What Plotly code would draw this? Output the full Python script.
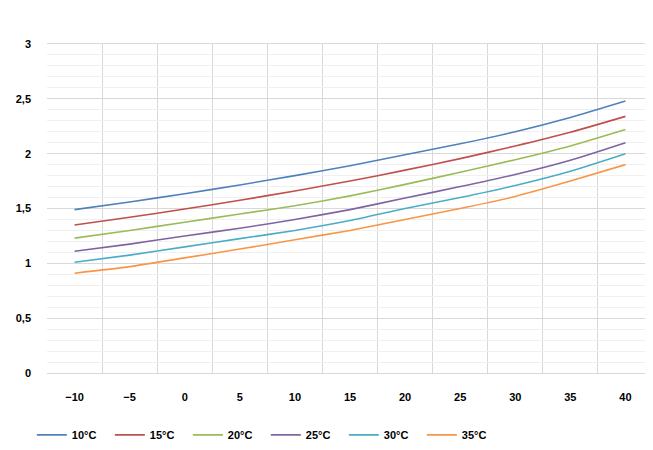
import plotly.graph_objects as go

temps_x = [-10, -5, 0, 5, 10, 15, 20, 25, 30, 35, 40]
series_names = ["10°C", "15°C", "20°C", "25°C", "30°C", "35°C"]
s10 = [1.49, 1.56, 1.635, 1.715, 1.80, 1.89, 1.99, 2.09, 2.20, 2.33, 2.48]
s15 = [1.35, 1.42, 1.495, 1.575, 1.66, 1.75, 1.85, 1.955, 2.07, 2.195, 2.34]
s20 = [1.23, 1.30, 1.375, 1.45, 1.525, 1.615, 1.72, 1.83, 1.945, 2.07, 2.22]
s25 = [1.11, 1.175, 1.25, 1.32, 1.40, 1.49, 1.595, 1.70, 1.81, 1.94, 2.10]
s30 = [1.01, 1.075, 1.15, 1.225, 1.30, 1.39, 1.50, 1.60, 1.71, 1.84, 2.00]
s35 = [0.91, 0.97, 1.05, 1.13, 1.215, 1.30, 1.40, 1.50, 1.61, 1.75, 1.90]
x_ticks = [-10, -5, 0, 5, 10, 15, 20, 25, 30, 35, 40]

colors = ["#4F81BD", "#C0504D", "#9BBB59", "#8064A2", "#4BACC6", "#F79646"]
all_series = [s10, s15, s20, s25, s30, s35]

font_fam = "Liberation Sans"
fig = go.Figure()
for name, ys, c in zip(series_names, all_series, colors):
    fig.add_trace(go.Scatter(x=temps_x, y=ys, mode="lines", name=name,
                             line=dict(color=c, width=1.6, shape="spline", smoothing=0.6)))

fig.update_layout(
    width=653, height=450,
    margin=dict(l=39, r=8, t=36, b=85, autoexpand=False),
    paper_bgcolor="white", plot_bgcolor="white",
    separators=", ",
    font=dict(family=font_fam, size=11, color="#000000"),
    showlegend=True,
    legend=dict(orientation="h", x=-0.025, xanchor="left", y=-0.188, yanchor="middle",
                entrywidth=33, entrywidthmode="pixels",
                font=dict(family=font_fam, size=11, color="#000", weight="bold"),
                itemclick=False, tracegroupgap=0),
    xaxis=dict(range=[-12.5, 42.5], tickmode="array", tickvals=x_ticks,
               ticks="", showgrid=False, zeroline=False,
               tickfont=dict(family=font_fam, size=11, weight="bold"),
               ticklabelstandoff=14,
               showline=True, linecolor="#d9d9d9", linewidth=1, mirror=True,
               minor=dict(tickmode="linear", tick0=-12.5, dtick=5, showgrid=True,
                          gridcolor="#d9d9d9", gridwidth=1, ticks="")),
    yaxis=dict(range=[0, 3], tickmode="linear", tick0=0, dtick=0.5,
               ticks="", showgrid=True, gridcolor="#d9d9d9", gridwidth=1,
               zeroline=False,
               tickfont=dict(family=font_fam, size=11, weight="bold"),
               ticklabelstandoff=15,
               minor=dict(tickmode="linear", tick0=0, dtick=0.1, showgrid=True,
                          gridcolor="#f0f0f0", gridwidth=1, ticks="")),
)

fig.write_html("out.html")
